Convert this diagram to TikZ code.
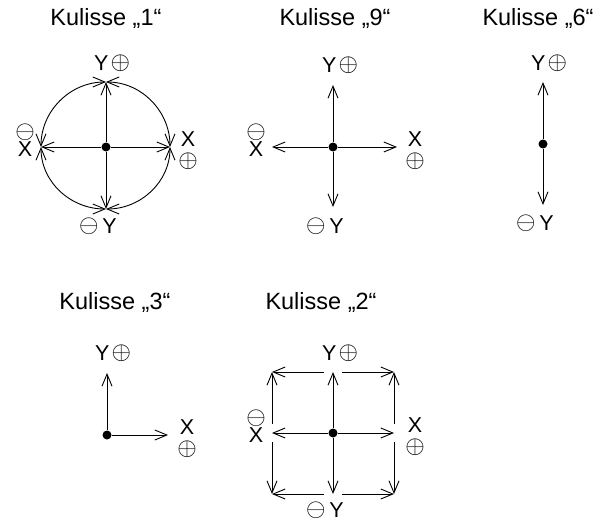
\documentclass[tikz,border=0pt]{standalone}
\usepackage{fontspec}
\usepackage{graphicx}
\setmainfont{Liberation Sans}
\usetikzlibrary{arrows.meta}
\newcommand{\pl}{\raisebox{1.5pt}{\scalebox{2.5}{\fontsize{10}{12}\selectfont$\oplus$}}}
\newcommand{\mi}{\raisebox{1.5pt}{\scalebox{2.5}{\fontsize{10}{12}\selectfont$\ominus$}}}
\begin{document}
\begin{tikzpicture}[x=1pt,y=1pt,
  arr/.style={-{Straight Barb[length=12pt,width=10pt]}, line width=0.9pt},
  barr/.style={{Straight Barb[length=12pt,width=10pt]}-{Straight Barb[length=12pt,width=10pt]}, line width=0.9pt},
  dot/.style={circle,fill,inner sep=0pt,minimum size=9pt},
  gap/.style={circle,inner sep=0pt,minimum size=18pt},
  ttl/.style={font=\fontsize{23.5}{28}\selectfont, inner sep=0pt},
  lbl/.style={font=\fontsize{21.5}{26}\selectfont, inner sep=0pt},
  above sym/.style={lbl, anchor=south, yshift=1pt},
  below sym/.style={lbl, anchor=north, yshift=-6pt}]
\useasboundingbox (0,0) rectangle (602,-524);

% ---------- Kulisse 1 ----------
\node[ttl] (t1) at (106,-18) {Kulisse „1“};
\node[dot] (d1) at (106,-147) {};
\coordinate (n1) at (106,-82);
\coordinate (s1) at (106,-209);
\coordinate (w1) at (41,-147);
\coordinate (e1) at (170,-147);
\draw[arr] (d1) -- (n1);
\draw[arr] (d1) -- (s1);
\draw[arr] (d1) -- (w1);
\draw[arr] (d1) -- (e1);
\draw[barr] (n1) to[out=0,in=90] (e1);
\draw[barr] (e1) to[out=-90,in=0] (s1);
\draw[barr] (s1) to[out=180,in=-90] (w1);
\draw[barr] (w1) to[out=90,in=180] (n1);
\node[lbl, anchor=west] (ly1) at (94,-63) {Y\hspace{2pt}\pl};
\node[lbl, anchor=east] (lmy1) at (117,-226) {\mi\hspace{4pt}Y};
\node[lbl] (lxw1) at (25,-149) {X};
\node[above sym] (lmw1) at (lxw1.north) {\mi};
\node[lbl] (lxe1) at (188,-139) {X};
\node[below sym] (lpe1) at (lxe1.south) {\pl};

% ---------- Kulisse 9 ----------
\node[ttl] (t9) at (335,-18) {Kulisse „9“};
\node[dot] (d9) at (333,-147) {};
\coordinate (n9) at (333,-85);
\coordinate (s9) at (333,-207);
\coordinate (w9) at (272,-147);
\coordinate (e9) at (397,-147);
\draw[arr] (d9) -- (n9);
\draw[arr] (d9) -- (s9);
\draw[arr] (d9) -- (w9);
\draw[arr] (d9) -- (e9);
\node[lbl, anchor=west] (ly9) at (322,-65) {Y\hspace{2pt}\pl};
\node[lbl, anchor=east] (lmy9) at (344,-226) {\mi\hspace{4pt}Y};
\node[lbl] (lxw9) at (256,-149) {X};
\node[above sym] (lmw9) at (lxw9.north) {\mi};
\node[lbl] (lxe9) at (415,-139) {X};
\node[below sym] (lpe9) at (lxe9.south) {\pl};

% ---------- Kulisse 6 ----------
\node[ttl] (t6) at (538,-18) {Kulisse „6“};
\node[dot] (d6) at (543,-144) {};
\coordinate (n6) at (543,-82);
\coordinate (s6) at (543,-205);
\draw[arr] (d6) -- (n6);
\draw[arr] (d6) -- (s6);
\node[lbl, anchor=west] (ly6) at (531,-63) {Y\hspace{2pt}\pl};
\node[lbl, anchor=east] (lmy6) at (554,-223) {\mi\hspace{4pt}Y};

% ---------- Kulisse 3 ----------
\node[ttl] (t3) at (115,-302) {Kulisse „3“};
\node[dot] (d3) at (107,-435) {};
\coordinate (n3) at (107,-373);
\coordinate (e3) at (168,-435);
\draw[arr] (d3) -- (n3);
\draw[arr] (d3) -- (e3);
\node[lbl, anchor=west] (ly3) at (95,-353) {Y\hspace{2pt}\pl};
\node[lbl] (lxe3) at (187,-427) {X};
\node[below sym] (lpe3) at (lxe3.south) {\pl};

% ---------- Kulisse 2 ----------
\node[ttl] (t2) at (321,-302) {Kulisse „2“};
\node[dot] (d2) at (333,-433) {};
\node[gap] (n2) at (333,-372) {};
\node[gap] (s2) at (333,-494) {};
\node[gap] (w2) at (272,-433) {};
\node[gap] (e2) at (394,-433) {};
\coordinate (nw2) at (272,-372);
\coordinate (ne2) at (394,-372);
\coordinate (sw2) at (272,-494);
\coordinate (se2) at (394,-494);
\draw[arr] (d2) -- (n2.center);
\draw[arr] (d2) -- (s2.center);
\draw[arr] (d2) -- (w2.center);
\draw[arr] (d2) -- (e2.center);
\draw[arr] (n2) -- (nw2);
\draw[arr] (n2) -- (ne2);
\draw[arr] (s2) -- (sw2);
\draw[arr] (s2) -- (se2);
\draw[arr] (w2) -- (nw2);
\draw[arr] (w2) -- (sw2);
\draw[arr] (e2) -- (ne2);
\draw[arr] (e2) -- (se2);
\node[lbl, anchor=west] (ly2) at (322,-353) {Y\hspace{2pt}\pl};
\node[lbl, anchor=east] (lmy2) at (344,-510) {\mi\hspace{4pt}Y};
\node[lbl] (lxw2) at (256,-435) {X};
\node[above sym] (lmw2) at (lxw2.north) {\mi};
\node[lbl] (lxe2) at (415,-425) {X};
\node[below sym] (lpe2) at (lxe2.south) {\pl};
\end{tikzpicture}
\end{document}
